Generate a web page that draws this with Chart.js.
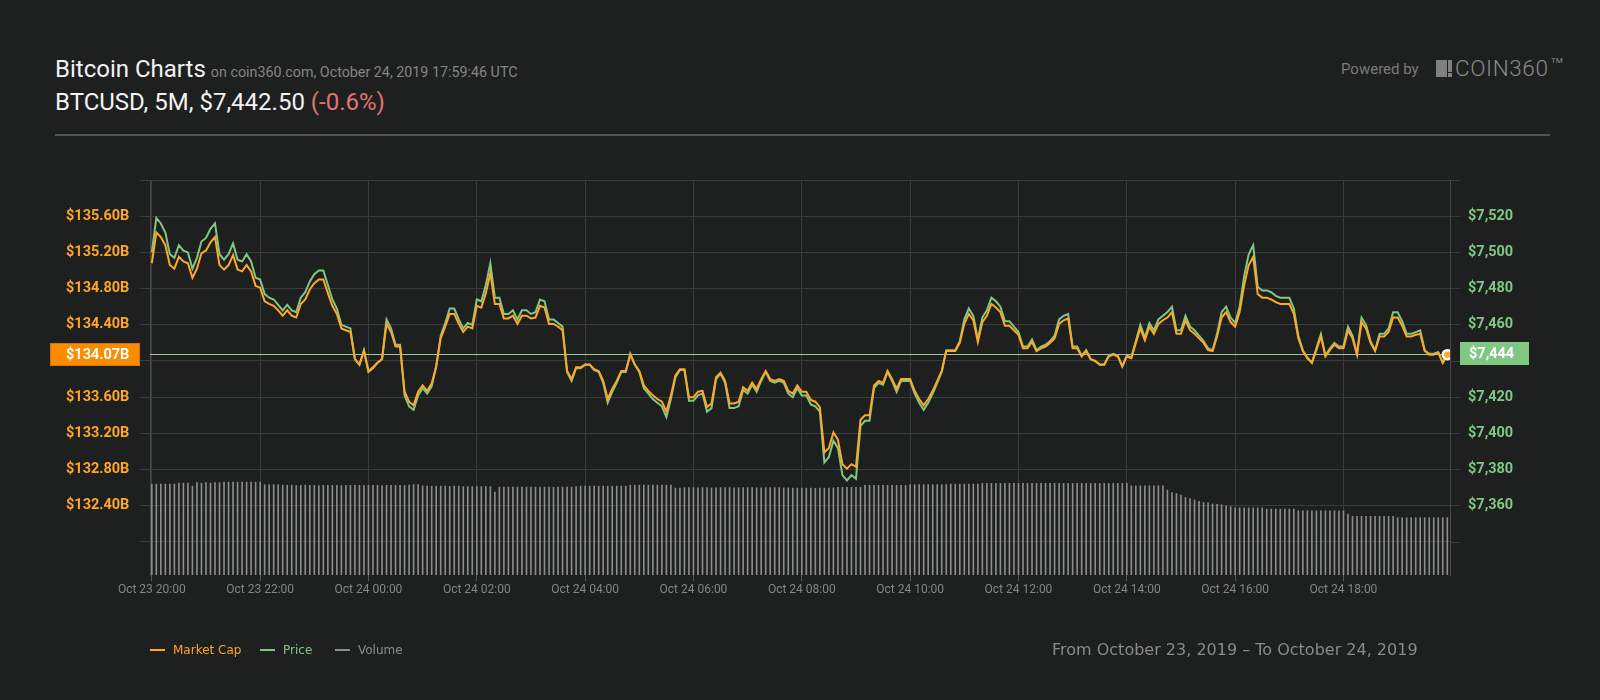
<!DOCTYPE html>
<html>
<head>
<meta charset="utf-8">
<title>Bitcoin Charts</title>
<script src="https://cdn.jsdelivr.net/npm/chart.js@4.4.1/dist/chart.umd.min.js"></script>
<style>
    html, body { margin: 0; padding: 0; background: #1e1f1f; }
    body { width: 1600px; height: 700px; position: relative; overflow: hidden; font-family: Roboto, sans-serif; }
    #wrap { position: absolute; left: 0; top: 0; width: 1600px; height: 700px; }
    .abs { position: absolute; white-space: nowrap; }
    .big { font-size: 24px; color: #f2f2f2; line-height: 26px; }
    .sub { font-size: 14.3px; color: #858585; margin-left: 5px; }
    .down { color: #e57373; }
    #sep { left: 55px; top: 134px; width: 1495px; height: 2px; background: #555; }
    #powered { left: 1341px; top: 58px; font-size: 15px; color: #7a7a7a; line-height: 22px; }
    .logo { background: #808080; }
    #coin { left: 1455px; top: 53px; font-size: 22.5px; font-weight: 300; color: #8a8a8a; letter-spacing: 0.6px; line-height: 30px; }
    #tm { left: 1551px; top: 56px; font-size: 8px; color: #8a8a8a; }
    .legend { top: 642px; font-family: "DejaVu Sans", sans-serif; font-size: 12px; line-height: 16px; }
    .dash { top: 649px; width: 15px; height: 2px; }
    #range { left: 1052px; top: 638px; font-family: "DejaVu Sans", sans-serif; font-size: 16px; color: #8a8a8a; line-height: 24px; }
</style>
</head>
<body>

<div class="abs big" style="left:55px; top:56px;">Bitcoin Charts<span class="sub">on coin360.com, October 24, 2019 17:59:46 UTC</span></div>
<div class="abs big" style="left:55px; top:89px;">BTCUSD, 5M, $7,442.50 <span class="down">(-0.6%)</span></div>
<div class="abs" id="sep"></div>

<div class="abs" id="powered">Powered by</div>
<div class="abs logo" style="left:1436px; top:60px; width:11px; height:17px;"></div>
<div class="abs logo" style="left:1448px; top:60px; width:4px; height:12px;"></div>
<div class="abs logo" style="left:1448px; top:73px; width:4px; height:4px;"></div>
<div class="abs" id="coin">COIN360</div>
<div class="abs" id="tm">TM</div>

<div id="wrap"><canvas id="chartBtc"></canvas></div>

<div class="abs dash" style="left:150px; background:#ffa726;"></div>
<div class="abs legend" style="left:173px; color:#ffa726;">Market Cap</div>
<div class="abs dash" style="left:260px; background:#81c784;"></div>
<div class="abs legend" style="left:283px; color:#81c784;">Price</div>
<div class="abs dash" style="left:335px; background:#8c8c8c;"></div>
<div class="abs legend" style="left:358px; color:#8c8c8c;">Volume</div>

<div class="abs" id="range">From October 23, 2019 – To October 24, 2019</div>

<script>
// =========================================
// DATI (5 minuti, dalle 20:00 del 23 ott.)
// =========================================

const stepMinuti = 5;

const tickMinuti = [0, 120, 240, 360, 480, 600, 720, 840, 960, 1080, 1200, 1320];

const tickEtichette = [
    "Oct 23 20:00", "Oct 23 22:00", "Oct 24 00:00", "Oct 24 02:00",
    "Oct 24 04:00", "Oct 24 06:00", "Oct 24 08:00", "Oct 24 10:00",
    "Oct 24 12:00", "Oct 24 14:00", "Oct 24 16:00", "Oct 24 18:00"
];

// prezzo BTC in USD
const prezzo = [
    7500, 7519, 7516, 7511, 7499, 7497, 7504, 7501, 7500, 7491, 7497, 7506,
    7508, 7513, 7516, 7499, 7496, 7499, 7505, 7496, 7495, 7499, 7495, 7486,
    7485, 7477, 7475, 7474, 7471, 7468, 7471, 7468, 7467, 7475, 7478, 7484,
    7488, 7490, 7490, 7482, 7474, 7469, 7460, 7459, 7458, 7441, 7438, 7446,
    7434, 7436, 7439, 7441, 7463, 7458, 7449, 7449, 7421, 7415, 7413, 7421,
    7425, 7422, 7426, 7437, 7454, 7461, 7469, 7469, 7463, 7458, 7461, 7460,
    7474, 7473, 7482, 7494, 7475, 7475, 7466, 7466, 7468, 7463, 7468, 7468,
    7466, 7467, 7474, 7473, 7463, 7463, 7461, 7459, 7434, 7429, 7436, 7436,
    7438, 7438, 7435, 7434, 7428, 7417, 7423, 7428, 7434, 7434, 7444, 7438,
    7434, 7425, 7422, 7419, 7417, 7415, 7409, 7419, 7431, 7435, 7435, 7418,
    7418, 7421, 7422, 7412, 7414, 7430, 7433, 7428, 7414, 7414, 7415, 7424,
    7422, 7427, 7423, 7429, 7434, 7429, 7428, 7429, 7428, 7422, 7420, 7425,
    7421, 7421, 7416, 7415, 7412, 7384, 7387, 7396, 7392, 7377, 7374, 7377,
    7375, 7404, 7407, 7407, 7425, 7428, 7427, 7434, 7429, 7423, 7429, 7429,
    7429, 7422, 7417, 7413, 7417, 7422, 7428, 7434, 7446, 7446, 7446, 7451,
    7463, 7469, 7465, 7452, 7464, 7468, 7475, 7473, 7470, 7462, 7462, 7459,
    7456, 7448, 7448, 7452, 7446, 7448, 7449, 7451, 7454, 7463, 7465, 7466,
    7448, 7448, 7443, 7446, 7441, 7440, 7438, 7438, 7443, 7444, 7443, 7437,
    7443, 7442, 7451, 7460, 7453, 7461, 7457, 7463, 7465, 7467, 7470, 7457,
    7457, 7465, 7459, 7457, 7454, 7451, 7447, 7446, 7455, 7467, 7470, 7464,
    7461, 7470, 7487, 7499, 7504, 7481, 7479, 7479, 7478, 7476, 7475, 7475,
    7475, 7469, 7454, 7446, 7442, 7439, 7447, 7455, 7443, 7447, 7450, 7448,
    7448, 7459, 7454, 7444, 7464, 7460, 7451, 7446, 7455, 7455, 7458, 7467,
    7467, 7462, 7455, 7455, 7456, 7457, 7446, 7444, 7444, 7445, 7439, 7444
];

// capitalizzazione in miliardi di USD
const capitalizzazione = [
    135.08, 135.42, 135.37, 135.28, 135.06, 135.02, 135.15, 135.10, 135.08, 134.92, 135.02, 135.19,
    135.22, 135.31, 135.37, 135.06, 135.01, 135.06, 135.17, 135.01, 134.99, 135.06, 134.99, 134.83,
    134.81, 134.66, 134.63, 134.61, 134.56, 134.50, 134.56, 134.50, 134.48, 134.63, 134.68, 134.79,
    134.86, 134.90, 134.90, 134.75, 134.61, 134.52, 134.36, 134.34, 134.32, 134.02, 133.96, 134.11,
    133.89, 133.93, 133.98, 134.02, 134.41, 134.32, 134.16, 134.16, 133.66, 133.55, 133.51, 133.66,
    133.73, 133.67, 133.75, 133.94, 134.25, 134.38, 134.52, 134.52, 134.41, 134.32, 134.38, 134.36,
    134.61, 134.59, 134.75, 134.97, 134.63, 134.63, 134.47, 134.47, 134.50, 134.41, 134.50, 134.50,
    134.47, 134.48, 134.61, 134.59, 134.41, 134.41, 134.38, 134.34, 133.89, 133.80, 133.93, 133.93,
    133.96, 133.96, 133.91, 133.89, 133.78, 133.58, 133.69, 133.78, 133.89, 133.89, 134.07, 133.96,
    133.89, 133.73, 133.67, 133.62, 133.58, 133.55, 133.44, 133.62, 133.84, 133.91, 133.91, 133.60,
    133.60, 133.66, 133.67, 133.49, 133.53, 133.82, 133.87, 133.78, 133.53, 133.53, 133.55, 133.71,
    133.67, 133.76, 133.69, 133.80, 133.89, 133.80, 133.78, 133.80, 133.78, 133.67, 133.64, 133.73,
    133.66, 133.66, 133.57, 133.55, 133.49, 132.99, 133.04, 133.21, 133.13, 132.86, 132.81, 132.86,
    132.83, 133.35, 133.40, 133.40, 133.73, 133.78, 133.76, 133.89, 133.80, 133.69, 133.80, 133.80,
    133.80, 133.67, 133.58, 133.51, 133.58, 133.67, 133.78, 133.89, 134.11, 134.11, 134.11, 134.20,
    134.41, 134.52, 134.45, 134.21, 134.43, 134.50, 134.63, 134.59, 134.54, 134.39, 134.39, 134.34,
    134.29, 134.14, 134.14, 134.21, 134.11, 134.14, 134.16, 134.20, 134.25, 134.41, 134.45, 134.47,
    134.14, 134.14, 134.05, 134.11, 134.02, 134.00, 133.96, 133.96, 134.05, 134.07, 134.05, 133.94,
    134.05, 134.03, 134.20, 134.36, 134.23, 134.38, 134.30, 134.41, 134.45, 134.48, 134.54, 134.30,
    134.30, 134.45, 134.34, 134.30, 134.25, 134.20, 134.12, 134.11, 134.27, 134.48, 134.54, 134.43,
    134.38, 134.54, 134.84, 135.06, 135.15, 134.74, 134.70, 134.70, 134.68, 134.65, 134.63, 134.63,
    134.63, 134.52, 134.25, 134.11, 134.03, 133.98, 134.12, 134.27, 134.05, 134.12, 134.18, 134.14,
    134.14, 134.34, 134.25, 134.07, 134.43, 134.36, 134.20, 134.11, 134.27, 134.27, 134.32, 134.48,
    134.48, 134.39, 134.27, 134.27, 134.29, 134.30, 134.11, 134.07, 134.07, 134.09, 133.98, 134.07
];

// volume 24h in miliardi di USD
const volume = [
    18.4, 18.4, 18.4, 18.4, 18.4, 18.4, 18.6, 18.6, 18.6, 18.0, 18.7, 18.6,
    18.7, 18.6, 18.7, 18.7, 18.8, 18.8, 18.8, 18.8, 18.8, 18.8, 18.8, 18.8,
    18.8, 18.3, 18.3, 18.3, 18.3, 18.2, 18.2, 18.2, 18.15, 18.15, 18.2, 18.15,
    18.15, 18.1, 18.15, 18.15, 18.15, 18.15, 18.1, 18.15, 18.15, 18.15, 18.15, 18.1,
    18.15, 18.15, 18.15, 18.1, 18.15, 18.15, 18.15, 18.15, 18.15, 18.2, 18.3, 18.3,
    18.05, 18.0, 18.0, 18.0, 18.0, 18.0, 17.95, 18.0, 18.0, 17.9, 17.9, 17.9,
    17.9, 17.9, 17.9, 17.9, 16.8, 17.8, 17.8, 17.8, 17.8, 17.8, 17.8, 17.8,
    17.8, 17.8, 17.8, 17.8, 17.8, 17.75, 17.8, 17.8, 17.8, 17.8, 17.9, 18.0,
    18.0, 18.0, 18.0, 18.0, 18.0, 18.0, 18.0, 18.0, 18.0, 18.0, 18.2, 18.2,
    18.2, 18.2, 18.2, 18.2, 18.2, 18.2, 18.2, 18.2, 17.6, 17.6, 17.7, 17.7,
    17.7, 17.65, 17.7, 17.7, 17.65, 17.65, 17.7, 17.7, 17.7, 17.65, 17.7, 17.7,
    17.7, 17.7, 17.65, 17.65, 17.7, 17.7, 17.7, 17.7, 17.65, 17.65, 17.6, 17.6,
    17.6, 17.6, 17.6, 17.55, 17.6, 17.6, 17.6, 17.65, 17.75, 17.75, 17.75, 17.75,
    17.75, 17.75, 18.15, 18.15, 18.15, 18.15, 18.15, 18.15, 18.15, 18.15, 18.15, 18.15,
    18.3, 18.3, 18.3, 18.3, 18.3, 18.3, 18.3, 18.3, 18.3, 18.4, 18.4, 18.4,
    18.4, 18.4, 18.4, 18.4, 18.55, 18.55, 18.55, 18.55, 18.55, 18.55, 18.55, 18.55,
    18.55, 18.55, 18.55, 18.55, 18.55, 18.55, 18.55, 18.55, 18.55, 18.55, 18.55, 18.55,
    18.55, 18.55, 18.55, 18.55, 18.55, 18.55, 18.55, 18.55, 18.55, 18.55, 18.55, 18.55,
    18.55, 18.05, 18.05, 18.05, 18.05, 18.05, 18.05, 18.05, 18.05, 17.2, 16.7, 16.5,
    16.2, 15.7, 15.5, 15.2, 14.9, 14.7, 14.6, 14.4, 14.3, 14.25, 14.0, 13.85,
    13.6, 13.6, 13.6, 13.6, 13.6, 13.6, 13.6, 13.35, 13.35, 13.35, 13.35, 13.35,
    13.35, 13.35, 13.0, 13.0, 13.0, 13.0, 13.0, 13.0, 13.0, 13.0, 13.0, 13.0,
    13.0, 12.35, 11.9, 11.9, 11.9, 11.9, 11.9, 11.9, 11.9, 11.9, 11.9, 11.9,
    11.6, 11.6, 11.6, 11.6, 11.6, 11.6, 11.6, 11.6, 11.6, 11.6, 11.6, 11.6
];

// tick assi Y (la riga corrente copre 134.00 / 7,440)
const tickCap = [132.0, 132.4, 132.8, 133.2, 133.6, 134.0, 134.4, 134.8, 135.2, 135.6, 136.0];
const tickCapEtichette = ["", "$132.40B", "$132.80B", "$133.20B", "$133.60B", "", "$134.40B", "$134.80B", "$135.20B", "$135.60B", ""];

const tickPrezzo = [7340, 7360, 7380, 7400, 7420, 7440, 7460, 7480, 7500, 7520, 7540];
const tickPrezzoEtichette = ["", "$7,360", "$7,380", "$7,400", "$7,420", "", "$7,460", "$7,480", "$7,500", "$7,520", ""];

// ================= COLORI =================

const ARANCIO = "#ffa726";
const VERDE = "#81c784";
const GRIGLIA = "#3b3b3b";

// ================= VALORE CORRENTE =================

const valoreCorrente = {

    id: "valoreCorrente",

    beforeDatasetsDraw(chart) {

        const { ctx, chartArea } = chart;

        const y = Math.round(chart.scales.yPrezzo.getPixelForValue(prezzo[prezzo.length - 1])) + 0.5;

        ctx.save();
        ctx.strokeStyle = "rgba(178, 214, 172, 0.9)";
        ctx.lineWidth = 1;
        ctx.beginPath();
        ctx.moveTo(chartArea.left, y);
        ctx.lineTo(chartArea.right, y);
        ctx.stroke();
        ctx.restore();

    },

    afterDraw(chart) {

        const { ctx, chartArea } = chart;

        const ultimaCap = capitalizzazione[capitalizzazione.length - 1];
        const ultimoPrezzo = prezzo[prezzo.length - 1];

        const yCap = chart.scales.yCap.getPixelForValue(ultimaCap);
        const yPrezzo = chart.scales.yPrezzo.getPixelForValue(ultimoPrezzo);

        ctx.save();
        ctx.font = "bold 14.5px Roboto";
        ctx.textBaseline = "middle";
        ctx.textAlign = "left";

        // sinistra
        ctx.fillStyle = "#fb8c00";
        ctx.fillRect(50, Math.round(yCap - 11.5), chartArea.left - 10 - 50, 23);
        ctx.strokeStyle = "#d67600";
        ctx.strokeRect(50.5, Math.round(yCap - 11.5) + 0.5, chartArea.left - 10 - 51, 22);
        ctx.fillStyle = "#ffffff";
        ctx.fillText("$" + ultimaCap.toFixed(2) + "B", 66, yCap + 1);

        // destra
        ctx.fillStyle = VERDE;
        ctx.fillRect(chartArea.right + 10, Math.round(yPrezzo - 11.5), 69, 23);
        ctx.fillStyle = "#ffffff";
        ctx.fillText("$" + ultimoPrezzo.toLocaleString("en-US"), chartArea.right + 19, yPrezzo + 1);

        ctx.restore();

    }

};

// ================= GRAFICO =================

const ultimo = prezzo.length - 1;

const ctxBtc = document.getElementById("chartBtc").getContext("2d");

Chart.defaults.font.family = "Roboto";

const chartBtc = new Chart(ctxBtc, {

    type: "bar",

    data: {

        datasets: [

            {
                type: "line",
                label: "Market Cap",
                data: capitalizzazione.map((v, i) => ({ x: i * stepMinuti, y: v })),
                yAxisID: "yCap",
                borderColor: ARANCIO,
                borderWidth: 2,
                tension: 0,
                pointRadius: c => c.dataIndex === ultimo ? 4.5 : 0,
                pointBackgroundColor: ARANCIO,
                pointBorderColor: "#ffffff",
                pointBorderWidth: 2.5,
                order: 1
            },

            {
                type: "line",
                label: "Price",
                data: prezzo.map((v, i) => ({ x: i * stepMinuti, y: v })),
                yAxisID: "yPrezzo",
                borderColor: VERDE,
                borderWidth: 2,
                tension: 0,
                pointRadius: 0,
                order: 2
            },

            {
                label: "Volume",
                data: volume.map((v, i) => ({ x: i * stepMinuti, y: v })),
                yAxisID: "yVol",
                backgroundColor: "#8c8c8c",
                barThickness: 1,
                order: 3
            }

        ]

    },

    options: {

        responsive: true,
        maintainAspectRatio: false,
        animation: false,
        events: [],

        layout: {
            padding: { top: 180, left: 66, right: 40, bottom: 95 }
        },

        plugins: {
            legend: { display: false },
            tooltip: { enabled: false }
        },

        scales: {

            x: {
                type: "linear",
                min: -2,
                max: 1438,
                offset: false,
                afterBuildTicks: s => { s.ticks = tickMinuti.map(v => ({ value: v })); },
                afterFit: s => { s.height = 30; },
                grid: { color: GRIGLIA, offset: false, tickLength: 6, tickColor: "#555" },
                border: { display: false },
                ticks: {
                    color: "#858585",
                    font: { size: 12 },
                    padding: 2,
                    autoSkip: false,
                    maxRotation: 0,
                    callback: (v, i) => tickEtichette[i]
                }
            },

            yCap: {
                type: "linear",
                position: "left",
                min: 131.635,
                max: 136.0,
                afterBuildTicks: s => { s.ticks = tickCap.map(v => ({ value: v })); },
                afterFit: s => { s.width = 84; },
                grid: { color: GRIGLIA, tickLength: 10 },
                border: { display: true, color: "#474747" },
                ticks: {
                    color: ARANCIO,
                    font: { size: 14.5, weight: "bold" },
                    crossAlign: "far",
                    callback: (v, i) => tickCapEtichette[i]
                }
            },

            yPrezzo: {
                type: "linear",
                position: "right",
                min: 7321.8,
                max: 7540,
                afterBuildTicks: s => { s.ticks = tickPrezzo.map(v => ({ value: v })); },
                afterFit: s => { s.width = 110; },
                grid: { color: GRIGLIA, drawOnChartArea: false, tickLength: 10 },
                border: { display: true, color: "#474747" },
                ticks: {
                    color: VERDE,
                    font: { size: 14.5, weight: "bold" },
                    padding: 8,
                    callback: (v, i) => tickPrezzoEtichette[i]
                }
            },

            yVol: {
                type: "linear",
                display: false,
                min: 0,
                max: 80
            }

        }

    },

    plugins: [valoreCorrente]

});
</script>
</body>
</html>
